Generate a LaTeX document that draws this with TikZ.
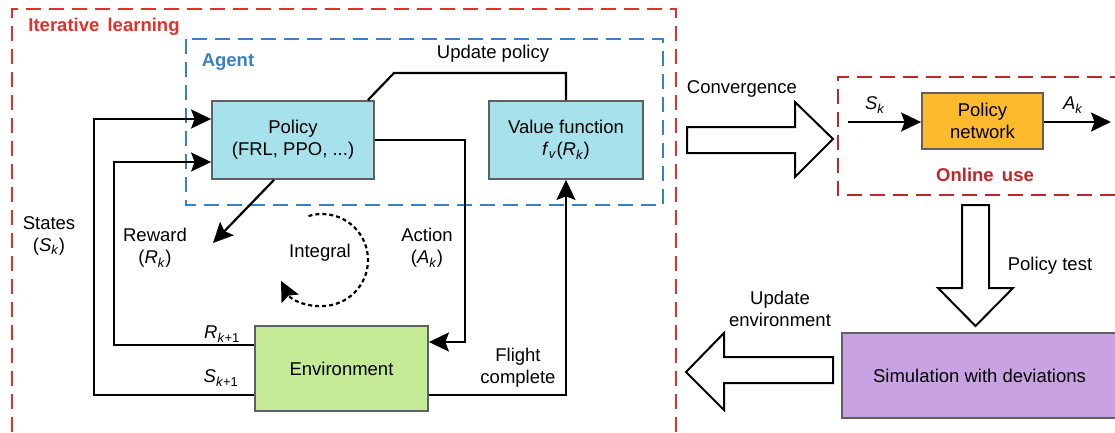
\documentclass[tikz,border=0pt]{standalone}
\usepackage{fontspec}
\setmainfont{Liberation Sans}
\usetikzlibrary{arrows.meta}
\definecolor{redd}{RGB}{228,48,40}
\definecolor{darkred}{RGB}{192,40,40}
\definecolor{blued}{RGB}{58,128,198}
\definecolor{cyanf}{RGB}{166,225,236}
\definecolor{greenf}{RGB}{196,234,150}
\definecolor{orangef}{RGB}{252,186,44}
\definecolor{purplef}{RGB}{201,162,227}
\definecolor{boxline}{RGB}{96,96,96}
\newcommand{\sub}[2]{\textit{#1}\textsubscript{\textit{#2}}}
\begin{document}
\begin{tikzpicture}[x=1pt,y=-1pt,
  font=\fontsize{18.5}{22}\selectfont,
  box/.style={draw=boxline, line width=1.8pt, align=center, inner sep=0pt},
  lbl/.style={align=center, inner sep=0pt},
  conn/.style={line width=2.2pt, black},
  tip/.style={-{Stealth[length=20pt,width=19pt,inset=3.5pt]}},
  arr/.style={conn, tip},
  reddash/.style={draw=redd, line width=2.2pt, dash pattern=on 15pt off 8pt},
  bluedash/.style={draw=blued, line width=2.2pt, dash pattern=on 15pt off 8pt},
  onlinedash/.style={draw=darkred, line width=2.2pt, dash pattern=on 15pt off 8pt},
  dotline/.style={line width=2.2pt, dash pattern=on 4pt off 3pt},
  hollow/.style={draw=black, line width=2pt, fill=white, line join=miter}
]
\useasboundingbox (0,0) rectangle (1115,432);

% frames
\draw[reddash] (12,432) -- (12,9) -- (676,9) -- (676,432);
\node[lbl, text=redd, font=\fontsize{18.5}{22}\selectfont\bfseries] (itl) at (104,27) {Iterative\, learning};
\draw[bluedash] (186,39) rectangle (663,205);
\node[lbl, text=blued, font=\fontsize{18.5}{22}\selectfont\bfseries] (agent) at (228,62) {Agent};
\draw[onlinedash] (1125,77) -- (838,77) -- (838,195) -- (1125,195);
\node[lbl, text=darkred, font=\fontsize{18.5}{22}\selectfont\bfseries] (online) at (985,175) {Online\, use};

% boxes
\node[box, fill=cyanf, minimum width=162pt, minimum height=78pt] (policy) at (293,140) {Policy\\(FRL, PPO, ...)};
\node[box, fill=cyanf, minimum width=154pt, minimum height=78pt] (value) at (566,140) {Value function\\\sub{f}{v}(\sub{R}{k})};
\node[box, fill=greenf, minimum width=173pt, minimum height=85pt] (env) at (341.5,368.5) {Environment};
\node[box, fill=orangef, minimum width=121pt, minimum height=56pt] (pnet) at (982.5,121) {Policy\\network};
\node[box, fill=purplef, minimum width=275pt, minimum height=85pt] (sim) at (979.5,375.5) {Simulation with deviations};

% coordinates
\coordinate (upl) at (394,73);
\coordinate (act) at (465,342);
\coordinate (fl) at (567,395);
\coordinate (r1) at (114,345);
\coordinate (r2) at (114,162);
\coordinate (s1) at (94,395);
\coordinate (s2) at (94,119);
\coordinate (rwend) at (213,243);
\coordinate (integc) at (322,260);
\coordinate (skin) at (848,122);
\coordinate (akout) at (1111,122);

% connectors
\draw[conn, line join=miter] ([xshift=-7pt]policy.north east) -- (upl) -| (value.north);
\draw[arr] (policy.east) -| (act) -- (env.east |- act);
\draw[arr] (env.east |- fl) -| (value.south);
\draw[arr] (env.west |- r1) -- (r1) -- (r2) -- (policy.west |- r2);
\draw[arr] (env.west |- s1) -- (s1) -- (s2) -- (policy.west |- s2);
\draw[arr] ([xshift=-19pt]policy.south) -- (rwend);
\draw[dotline, tip] (integc) ++(-107:46) arc[start angle=-107, end angle=153, radius=46];
\draw[arr] (skin) -- (pnet.west |- skin);
\draw[arr] (pnet.east |- akout) -- (akout);

% hollow arrows
\draw[hollow] (687,127) -- (795,127) -- (795,102) -- (833,139) -- (795,177) -- (795,153) -- (687,153) -- cycle;
\draw[hollow] (962,205) -- (989,205) -- (989,288) -- (1013,288) -- (975.5,326) -- (938,288) -- (962,288) -- cycle;
\draw[hollow] (833,357) -- (724,357) -- (724,333) -- (686,372) -- (724,410) -- (724,383) -- (833,383) -- cycle;

% labels
\node[lbl] (updp) at (493,54) {Update policy};
\node[lbl] (conv) at (742,89) {Convergence};
\node[lbl] (skl) at (875,105) {\sub{S}{k}};
\node[lbl] (akl) at (1073,105) {\sub{A}{k}};
\node[lbl] (ptest) at (1050,266) {Policy test};
\node[lbl] (upenv) at (780,309) {Update\\environment};
\node[lbl] (states) at (49,236) {States\\(\sub{S}{k})};
\node[lbl] (reward) at (155,248) {Reward\\(\sub{R}{k})};
\node[lbl] (action) at (427,248) {Action\\(\sub{A}{k})};
\node[lbl] (integral) at (320,253) {Integral};
\node[lbl] (rk1) at (222,334) {\textit{R}\textsubscript{\textit{k}+1}};
\node[lbl] (sk1) at (221,378) {\textit{S}\textsubscript{\textit{k}+1}};
\node[lbl] (flight) at (518,368) {Flight\\complete};
\end{tikzpicture}
\end{document}
